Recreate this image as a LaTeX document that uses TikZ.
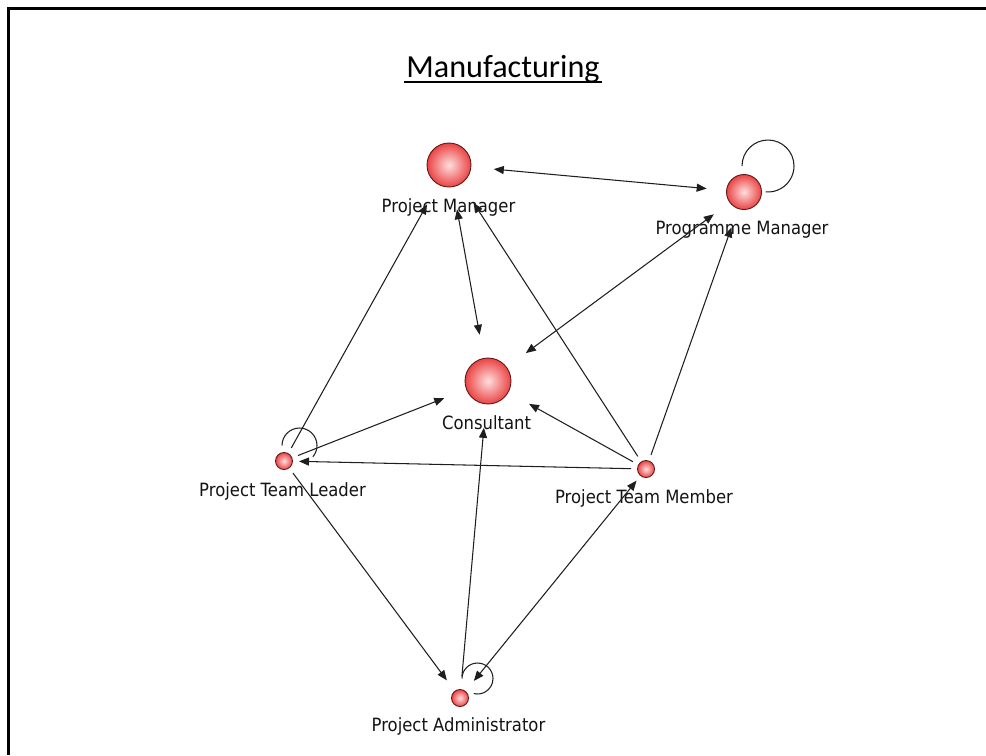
\documentclass[tikz,border=0pt]{standalone}
\usepackage{fontspec}
\usetikzlibrary{arrows.meta}
\newfontfamily\lblfont[FakeStretch=0.9]{DejaVu Sans}
\newfontfamily\titlefont{Carlito}
\definecolor{ballin}{RGB}{255,222,222}
\definecolor{ballout}{RGB}{234,68,68}
\definecolor{ballrim}{RGB}{95,22,22}
\definecolor{edgecol}{RGB}{30,30,30}

\begin{document}
\begin{tikzpicture}[x=0.02cm,y=-0.02cm,
  actor/.style={circle, draw=ballrim, line width=0.5pt, inner color=ballin,
    outer color=ballout, inner sep=0pt},
  bigactor/.style={actor, minimum size=0.88cm},
  midactor/.style={actor, minimum size=0.70cm},
  smallactor/.style={actor, minimum size=0.34cm},
  lbl/.style={anchor=base, inner sep=0pt, text=black!92,
    font=\lblfont\fontsize{10.4}{12}\selectfont},
  link/.style={draw=edgecol, line width=0.6pt},
  oneway/.style={link, -{Triangle[length=2mm,width=1.6mm]}},
  twoway/.style={link, {Triangle[length=2mm,width=1.6mm]}-{Triangle[length=2mm,width=1.6mm]}},
  loopline/.style={draw=edgecol, line width=0.6pt}]

\useasboundingbox (0,0) rectangle (986,755);

% open frame (top and left edges)
\draw[line width=1.3pt] (986,8.5) -- (8.5,8.5) -- (8.5,755);

% title
\node[anchor=base, inner sep=0pt, font=\titlefont\fontsize{18.3}{22}\selectfont]
  (title) at (503,77) {Manufacturing};
\draw[line width=1.3pt] ([xshift=-0.04cm,yshift=-0.1cm]title.base west)
  -- ([xshift=0.04cm,yshift=-0.1cm]title.base east);

% actors
\node[bigactor, outer sep=0.46cm] (pm)   at (449,165) {};
\node[midactor, outer sep=0.40cm] (pgm)  at (744,192) {};
\node[bigactor, minimum size=0.92cm, outer sep=0.48cm] (cons) at (488,381) {};
\node[smallactor, outer sep=0.13cm] (ptl) at (284,461) {};
\node[smallactor, outer sep=0.13cm] (ptm) at (646,469) {};
\node[smallactor, outer sep=0.27cm] (pa)  at (460,698) {};

% labels
\node[lbl] (pm-l)   at (448.5,212.7) {Project Manager};
\node[lbl] (pgm-l)  at (742,234)     {Programme Manager};
\node[lbl] (cons-l) at (486.5,429)   {Consultant};
\node[lbl] (ptl-l)  at (282.5,496)   {Project Team Leader};
\node[lbl] (ptm-l)  at (644,503)     {Project Team Member};
\node[lbl] (pa-l)   at (458.5,731.7) {Project Administrator};

% ties
\draw[twoway] (pm) -- (pgm);
\draw[twoway] (pm) -- (cons);
\draw[twoway] (pgm) -- (cons);
\draw[oneway] (ptl) -- (pm);
\draw[oneway] (ptm) -- (pm);
\draw[oneway] (ptl) -- (cons);
\draw[oneway] (ptm) -- (ptl);
\draw[oneway] (ptm) -- (cons);
\draw[oneway] (ptm) -- (pgm);
\draw[oneway] (ptl) -- (pa);
\draw[oneway] (pa) -- (cons);
\draw[twoway] (pa) -- (ptm);

% reflexive ties
\draw[loopline] ([shift={(24,-26)}]pgm.center) ++(-26,0)
  arc[start angle=180, end angle=-95, radius=0.52cm];
\draw[loopline] ([shift={(15.5,-15.5)}]ptl.center) ++(-17.5,0)
  arc[start angle=180, end angle=-40, radius=0.35cm];
\draw[loopline] ([shift={(17.5,-19.5)}]pa.center) ++(-15.5,0)
  arc[start angle=180, end angle=-104, radius=0.31cm];

\end{tikzpicture}
\end{document}
